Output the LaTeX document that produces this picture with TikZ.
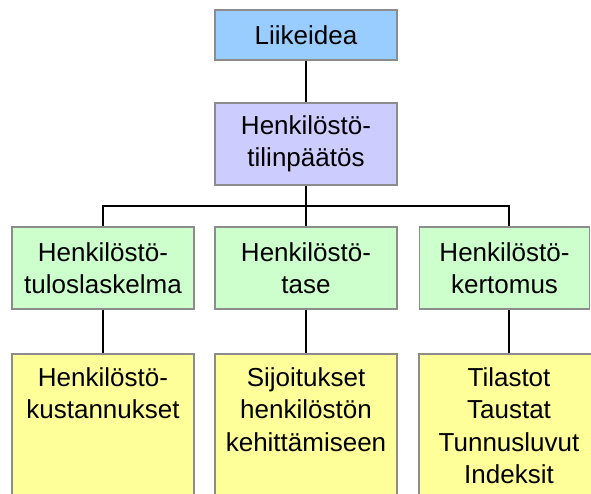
\documentclass[tikz,border=0pt]{standalone}
\usepackage{fontspec}
\setmainfont{Liberation Sans}
\definecolor{cblue}{HTML}{99CCFF}
\definecolor{clav}{HTML}{CCCCFF}
\definecolor{cgreen}{HTML}{CCFFCC}
\definecolor{cyellow}{HTML}{FFFF99}
\definecolor{cborder}{HTML}{8C8C8C}
\begin{document}
\begin{tikzpicture}[x=1pt,y=-1pt,
  box/.style={draw=cborder, line width=1.6pt, rectangle, inner sep=0pt, align=center,
    font=\fontsize{26}{32}\selectfont},
  conn/.style={draw=black, line width=1.8pt},
  txt/.style={inner sep=0pt, align=center, anchor=north, font=\fontsize{26}{32.5}\selectfont}]
\useasboundingbox (0,0) rectangle (591,494);
\clip (0,0) rectangle (591,494);
% nodes
\node[box, fill=cblue, minimum width=182pt, minimum height=50pt] (liike) at (306,35) {Liikeidea};
\node[box, fill=clav, minimum width=182pt, minimum height=82pt] (tilin) at (306,144) {Henkilöstö-\\tilinpäätös};
\node[box, fill=cgreen, minimum width=182pt, minimum height=82pt] (g1) at (103,268) {Henkilöstö-\\tuloslaskelma};
\node[box, fill=cgreen, minimum width=182pt, minimum height=82pt] (g2) at (306,268) {Henkilöstö-\\tase};
\node[box, fill=cgreen, minimum width=170pt, minimum height=82pt] (g3) at (504.5,268) {Henkilöstö-\\kertomus};
\node[box, fill=cyellow, minimum width=182pt, minimum height=170pt, anchor=north] (y1) at (103,353) {};
\node[box, fill=cyellow, minimum width=182pt, minimum height=170pt, anchor=north] (y2) at (306,353) {};
\node[box, fill=cyellow, minimum width=180pt, minimum height=170pt, anchor=north] (y3) at (509,353) {};
\node[txt] (t1) at (103,367) {Henkilöstö-\\kustannukset};
\node[txt] (t2) at (306,367) {Sijoitukset\\henkilöstön\\kehittämiseen};
\node[txt] (t3) at (509,367) {Tilastot\\Taustat\\Tunnusluvut\\Indeksit};
% connectors
\coordinate (bus) at (306,206);
\draw[conn] (liike.south) -- (tilin.north);
\draw[conn] (tilin.south) -- (bus);
\draw[conn] (g1.north -| y1.north) |- (bus) -| (g3.north -| y3.north);
\draw[conn] (bus) -- (g2.north);
\draw[conn] (g1.south -| y1.north) -- (y1.north);
\draw[conn] (g2.south) -- (y2.north);
\draw[conn] (g3.south -| y3.north) -- (y3.north);
\end{tikzpicture}
\end{document}
